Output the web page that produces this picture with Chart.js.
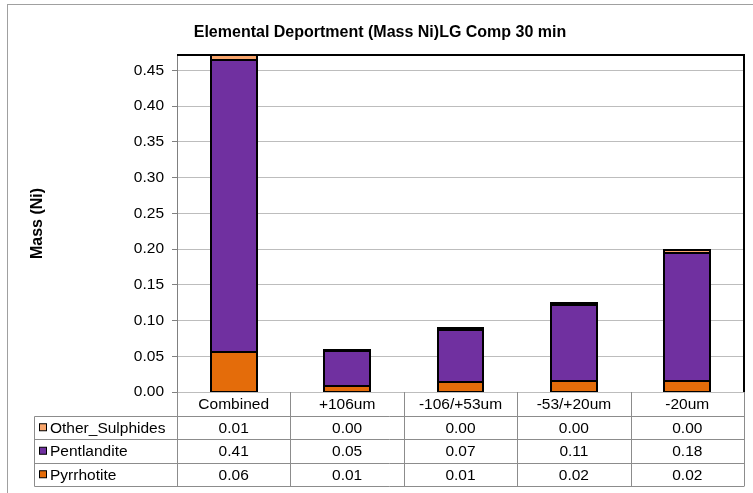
<!DOCTYPE html>
<html>
<head>
<meta charset="utf-8">
<script src="https://cdn.jsdelivr.net/npm/chart.js@4"></script>
<style>
  html, body { margin: 0; padding: 0; background: #fff; }
  #wrap { width: 753px; height: 493px; position: relative; }
</style>
</head>
<body>
<div id="wrap"><canvas id="myChart" width="753" height="493"></canvas></div>
<script>
const categories = ['Combined', '+106um', '-106/+53um', '-53/+20um', '-20um'];
const pyrrhotite = [0.056, 0.008, 0.014, 0.016, 0.0155];
const pentlandite = [0.409, 0.049, 0.073, 0.1062, 0.179];
const otherSulphides = [0.0065, 0.002, 0.002, 0.002, 0.004];
const yTicks = [0, 0.05, 0.10, 0.15, 0.20, 0.25, 0.30, 0.35, 0.40, 0.45];
const yMax = 0.4716;

const FONT = '"Liberation Sans", Arial, sans-serif';

// black outline around every bar segment, centred on its edges
const outlines = {
  id: 'outlines',
  afterDatasetsDraw(chart) {
    const c = chart.ctx;
    const area = chart.chartArea;
    c.save();
    c.beginPath();
    c.rect(area.left, area.top - 1, area.right - area.left, area.bottom - area.top + 1);
    c.clip();
    c.strokeStyle = '#000';
    c.lineWidth = 2;
    chart.data.datasets.forEach((ds, di) => {
      chart.getDatasetMeta(di).data.forEach(bar => {
        const p = bar.getProps(['x', 'y', 'base', 'width'], true);
        const l = Math.round(p.x - p.width / 2);
        const r = Math.round(p.x + p.width / 2);
        const t = Math.round(Math.min(p.y, p.base));
        const b = Math.round(Math.max(p.y, p.base));
        c.strokeRect(l, t, r - l, b - t);
      });
    });
    c.restore();
  }
};

// draws title, y axis title, data table and frame
const extras = {
  id: 'extras',
  afterDraw(chart) {
    const c = chart.ctx;
    const area = chart.chartArea;
    const x = chart.scales.x;
    c.save();

    // outer frame
    c.strokeStyle = '#a0a0a0';
    c.lineWidth = 1;
    c.strokeRect(7.5, 4.5, 800, 600);

    // plot frame top/right
    c.strokeStyle = '#000';
    c.lineWidth = 2;
    c.beginPath();
    c.moveTo(area.left, area.top);
    c.lineTo(area.right, area.top);
    c.lineTo(area.right, area.bottom);
    c.stroke();

    // title
    c.fillStyle = '#000';
    c.font = 'bold 16px ' + FONT;
    c.textAlign = 'center';
    c.textBaseline = 'middle';
    c.fillText('Elemental Deportment (Mass Ni)LG Comp 30 min', 380, 33);

    // y title
    c.save();
    c.translate(38, (area.top + area.bottom) / 2);
    c.rotate(-Math.PI / 2);
    c.fillText('Mass (Ni)', 0, 0);
    c.restore();

    // data table
    const rowH = 23.5;
    const top = area.bottom;
    const legLeft = 34.5;
    const step = x.getPixelForValue(1) - x.getPixelForValue(0);
    const rows = [
      { name: 'Other_Sulphides', color: '#F9A66C', data: otherSulphides },
      { name: 'Pentlandite', color: '#7030A0', data: pentlandite },
      { name: 'Pyrrhotite', color: '#E46C0A', data: pyrrhotite }
    ];
    const bottom = top + rowH * (rows.length + 1);

    c.strokeStyle = '#8c8c8c';
    c.lineWidth = 1;
    c.beginPath();
    for (let r = 1; r <= rows.length + 1; r++) {
      const yy = Math.round(top + rowH * r) + 0.5;
      c.moveTo(legLeft, yy);
      c.lineTo(area.right, yy);
    }
    c.moveTo(legLeft, Math.round(top + rowH) + 0.5);
    c.lineTo(legLeft, Math.round(bottom) + 0.5);
    for (let i = 0; i <= categories.length; i++) {
      const xx = Math.round(area.left + step * i) + 0.5;
      c.moveTo(xx, top);
      c.lineTo(xx, Math.round(bottom) + 0.5);
    }
    c.stroke();

    c.font = '15.5px ' + FONT;
    c.fillStyle = '#000';
    c.textAlign = 'center';
    categories.forEach((cat, i) => {
      c.fillText(cat, x.getPixelForValue(i), top + rowH / 2 + 1);
    });
    rows.forEach((row, r) => {
      const cy = top + rowH * (r + 1) + rowH / 2 + 1;
      c.fillStyle = row.color;
      c.fillRect(39.5, cy - 4.5, 7, 7);
      c.strokeStyle = '#000';
      c.strokeRect(39.5, cy - 4.5, 7, 7);
      c.fillStyle = '#000';
      c.textAlign = 'left';
      c.fillText(row.name, 50, cy);
      c.textAlign = 'center';
      row.data.forEach((v, i) => {
        c.fillText(v.toFixed(2), x.getPixelForValue(i), cy);
      });
    });
    c.restore();
  }
};

const ctx = document.getElementById('myChart').getContext('2d');
const myChart = new Chart(ctx, {
  type: 'bar',
  data: {
    labels: categories,
    datasets: [
      { label: 'Pyrrhotite', data: pyrrhotite, backgroundColor: '#E46C0A' },
      { label: 'Pentlandite', data: pentlandite, backgroundColor: '#7030A0' },
      { label: 'Other_Sulphides', data: otherSulphides, backgroundColor: '#F9A66C' }
    ].map(d => Object.assign(d, {
      borderWidth: 0,
      categoryPercentage: 1,
      barPercentage: 0.405
    }))
  },
  options: {
    responsive: false,
    animation: false,
    layout: { padding: { left: 0, right: 9, top: 55, bottom: 101 } },
    plugins: {
      legend: { display: false },
      title: { display: false },
      tooltip: { enabled: false }
    },
    scales: {
      x: {
        stacked: true,
        display: false
      },
      y: {
        stacked: true,
        min: 0,
        max: yMax,
        afterFit: function(scale) { scale.width = 177; },
        afterBuildTicks: function(scale) {
          scale.ticks = yTicks.map(v => ({ value: v }));
        },
        ticks: {
          color: '#000',
          font: { family: FONT, size: 15.5 },
          padding: 8,
          callback: v => Number(v).toFixed(2)
        },
        grid: {
          color: '#bdbdbd',
          tickColor: '#808080',
          tickLength: 5
        },
        border: { color: '#808080', width: 1 }
      }
    }
  },
  plugins: [outlines, extras]
});
</script>
</body>
</html>
